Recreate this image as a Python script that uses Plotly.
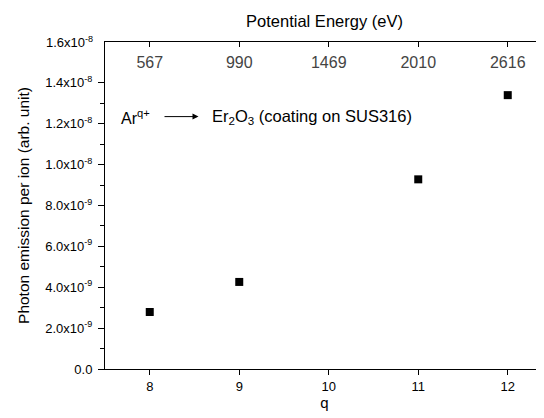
import plotly.graph_objects as go

q = [8, 9, 11, 12]
photon = [2.79e-9, 4.26e-9, 9.28e-9, 13.4e-9]

top_ticks = [8, 9, 10, 11, 12]
energy_labels = ["567", "990", "1469", "2010", "2616"]

y_tickvals = [0, 2e-9, 4e-9, 6e-9, 8e-9, 1e-8, 1.2e-8, 1.4e-8]
y_ticktext = ["0.0", "2.0x10<sup>-9</sup>", "4.0x10<sup>-9</sup>", "6.0x10<sup>-9</sup>",
              "8.0x10<sup>-9</sup>", "1.0x10<sup>-8</sup>", "1.2x10<sup>-8</sup>",
              "1.4x10<sup>-8</sup>"]
y_top_val = 1.6e-8
y_top_text = "1.6x10<sup>-8</sup>"
y_minor = [1e-9, 3e-9, 5e-9, 7e-9, 9e-9, 1.1e-8, 1.3e-8, 1.5e-8]

FONT = "Liberation Sans, Arial, sans-serif"
xr = [7.5, 12.405]
yr = [0, 1.6e-8]

fig = go.Figure()
fig.add_trace(go.Scatter(x=q, y=photon, mode="markers",
                         marker=dict(symbol="square", size=8, color="black"),
                         showlegend=False))
fig.add_trace(go.Scatter(x=q, y=photon, xaxis="x2", mode="markers",
                         marker=dict(opacity=0), showlegend=False, hoverinfo="skip"))

fig.update_layout(
    width=536, height=410,
    margin=dict(l=97, r=0, t=34, b=49, autoexpand=False),
    plot_bgcolor="white", paper_bgcolor="white",
    font=dict(family=FONT, size=13, color="black"),
    xaxis=dict(range=xr, tickvals=top_ticks, ticks="outside", ticklen=5,
               tickwidth=1, tickcolor="black", showline=True, linecolor="black",
               linewidth=1, showgrid=False, zeroline=False, automargin=False,
               tickfont=dict(size=13),
               title=dict(text="q", font=dict(size=15), standoff=2)),
    xaxis2=dict(range=xr, overlaying="x", side="top", tickvals=top_ticks,
                ticktext=energy_labels, ticks="inside", ticklen=5, tickwidth=1,
                tickcolor="black", ticklabelposition="inside", ticklabelstandoff=10,
                automargin=False,
                showline=True, linecolor="black", linewidth=1,
                showgrid=False, zeroline=False, tickfont=dict(size=16),
                title=dict(text="Potential Energy (eV)", font=dict(size=16.5), standoff=22)),
    yaxis=dict(range=yr, tickvals=y_tickvals + [y_top_val],
               ticktext=y_ticktext + [""],
               ticks="outside", ticklen=6, tickwidth=1, tickcolor="black",
               ticklabelstandoff=3,
               showline=True, linecolor="black", linewidth=1, automargin=False,
               showgrid=False, zeroline=False, tickfont=dict(size=13),
               minor=dict(tickvals=y_minor, ticks="outside", ticklen=4, tickcolor="black"),
               title=dict(text="Photon emission per ion (arb. unit)",
                          font=dict(size=15.5), standoff=11)),
)

# top-most y tick label (plotly hides it at the range edge next to the top axis)
fig.add_annotation(x=0, y=y_top_val, xref="paper", yref="y", xanchor="right",
                   yanchor="middle", xshift=-10, text=y_top_text, showarrow=False,
                   font=dict(size=13))

ann_y = 1.235e-8
fig.add_annotation(x=8.025, y=ann_y, xref="x", yref="y", xanchor="right",
                   text="Ar<sup>q+</sup>", showarrow=False, font=dict(size=16))
fig.add_annotation(x=8.545, y=ann_y, xref="x", yref="y", ax=8.148, ay=ann_y,
                   axref="x", ayref="y", text="", showarrow=True,
                   arrowhead=2, arrowsize=1.2, arrowwidth=1, arrowcolor="black")
fig.add_annotation(x=8.673, y=ann_y, xref="x", yref="y", xanchor="left",
                   text="Er<sub>2</sub>O<sub>3</sub> (coating on SUS316)",
                   showarrow=False, font=dict(size=16.5))

fig.write_html("out.html")
